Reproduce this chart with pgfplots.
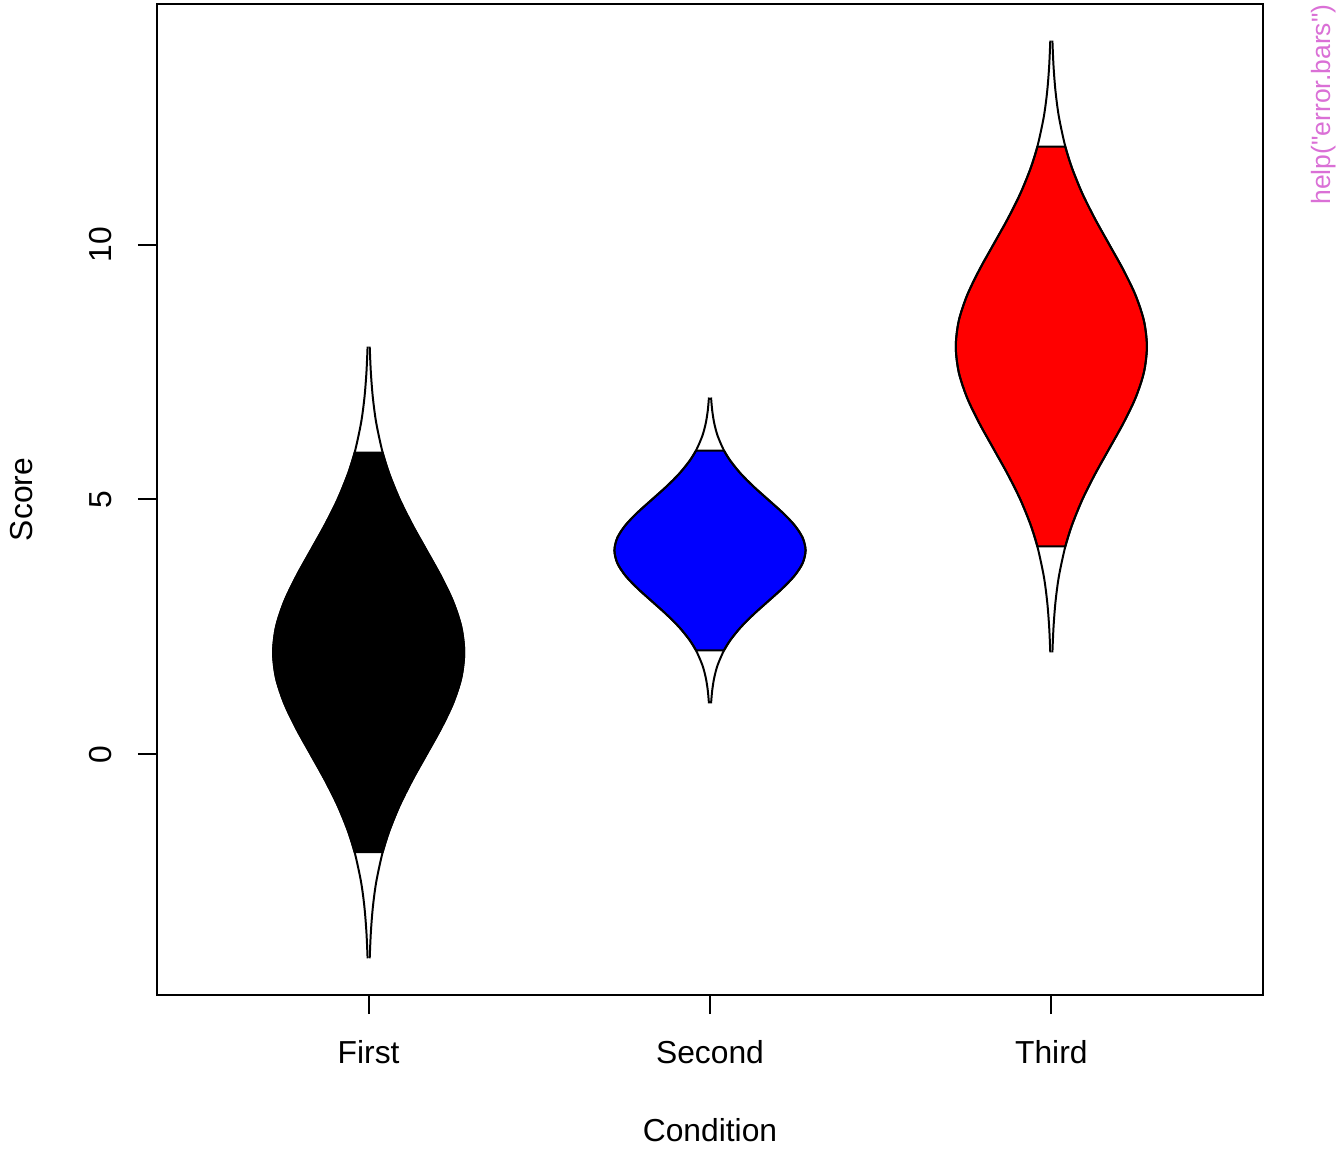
\documentclass[border=0pt]{standalone}
\usepackage{fontspec}
\setmainfont{Liberation Sans}
\newfontfamily\helpfont{Liberation Sans}
\usepackage{pgfplots}
\pgfplotsset{compat=1.18}
\usepgfplotslibrary{fillbetween}
\definecolor{violetR}{HTML}{DA70D6}
\newcommand{\fsA}{\fontsize{12}{14.4}\selectfont}
\newcommand{\fsB}{\fontsize{10}{12}\selectfont}
\begin{document}
\begin{tikzpicture}
\begin{axis}[
  at={(0,0)}, anchor=south west,
  scale only axis, width=417.36pt, height=373.96pt,
  xmin=0.38, xmax=3.62, ymin=-4.72, ymax=14.72,
  axis line style={line width=0.75pt},
  xtick={1,2,3}, xticklabels={First,Second,Third},
  ytick={0,5,10},
  xtick pos=bottom, ytick pos=left,
  tick align=outside, major tick length=7.2pt,
  tick style={line width=0.75pt, black},
  /pgf/number format/assume math mode=true,
  tick label style={font=\fsA},
  xticklabel style={anchor=base, yshift=-18.8pt},
  yticklabel style={xshift=-9.8pt, rotate=90, anchor=base},
  clip=false,
]
% First
\addplot[draw=none, smooth, name path=f1l, forget plot] coordinates {(0.9590,-1.92) (0.9394,-1.5) (0.9091,-1) (0.8718,-0.5) (0.8302,0) (0.7887,0.5) (0.7529,1) (0.7286,1.5) (0.72,2) (0.7286,2.5) (0.7529,3) (0.7887,3.5) (0.8302,4) (0.8718,4.5) (0.9091,5) (0.9394,5.5) (0.9590,5.92)};
\addplot[draw=none, smooth, name path=f1r, forget plot] coordinates {(1.0410,-1.92) (1.0606,-1.5) (1.0909,-1) (1.1282,-0.5) (1.1698,0) (1.2113,0.5) (1.2471,1) (1.2714,1.5) (1.28,2) (1.2714,2.5) (1.2471,3) (1.2113,3.5) (1.1698,4) (1.1282,4.5) (1.0909,5) (1.0606,5.5) (1.0410,5.92)};
\addplot[fill=black, draw=black, line width=0.75pt] fill between[of=f1l and f1r, reverse=true];
\addplot[black, line width=0.75pt, smooth] coordinates {(0.9969,-4) (0.9936,-3.5) (0.9877,-3) (0.9777,-2.5) (0.9590,-1.92) (0.9394,-1.5) (0.9091,-1) (0.8718,-0.5) (0.8302,0) (0.7887,0.5) (0.7529,1) (0.7286,1.5) (0.72,2) (0.7286,2.5) (0.7529,3) (0.7887,3.5) (0.8302,4) (0.8718,4.5) (0.9091,5) (0.9394,5.5) (0.9590,5.92) (0.9777,6.5) (0.9877,7) (0.9936,7.5) (0.9969,8)};
\addplot[black, line width=0.75pt, smooth] coordinates {(1.0031,-4) (1.0064,-3.5) (1.0123,-3) (1.0223,-2.5) (1.0410,-1.92) (1.0606,-1.5) (1.0909,-1) (1.1282,-0.5) (1.1698,0) (1.2113,0.5) (1.2471,1) (1.2714,1.5) (1.28,2) (1.2714,2.5) (1.2471,3) (1.2113,3.5) (1.1698,4) (1.1282,4.5) (1.0909,5) (1.0606,5.5) (1.0410,5.92) (1.0223,6.5) (1.0123,7) (1.0064,7.5) (1.0031,8)};
% Second
\addplot[draw=none, smooth, name path=f2l, forget plot] coordinates {(1.9590,2.04) (1.9394,2.25) (1.9091,2.5) (1.8718,2.75) (1.8302,3) (1.7887,3.25) (1.7529,3.5) (1.7286,3.75) (1.72,4) (1.7286,4.25) (1.7529,4.5) (1.7887,4.75) (1.8302,5) (1.8718,5.25) (1.9091,5.5) (1.9394,5.75) (1.9590,5.96)};
\addplot[draw=none, smooth, name path=f2r, forget plot] coordinates {(2.0410,2.04) (2.0606,2.25) (2.0909,2.5) (2.1282,2.75) (2.1698,3) (2.2113,3.25) (2.2471,3.5) (2.2714,3.75) (2.28,4) (2.2714,4.25) (2.2471,4.5) (2.2113,4.75) (2.1698,5) (2.1282,5.25) (2.0909,5.5) (2.0606,5.75) (2.0410,5.96)};
\addplot[fill=blue, draw=black, line width=0.75pt] fill between[of=f2l and f2r, reverse=true];
\addplot[black, line width=0.75pt, smooth] coordinates {(1.9969,1) (1.9936,1.25) (1.9877,1.5) (1.9777,1.75) (1.9590,2.04) (1.9394,2.25) (1.9091,2.5) (1.8718,2.75) (1.8302,3) (1.7887,3.25) (1.7529,3.5) (1.7286,3.75) (1.72,4) (1.7286,4.25) (1.7529,4.5) (1.7887,4.75) (1.8302,5) (1.8718,5.25) (1.9091,5.5) (1.9394,5.75) (1.9590,5.96) (1.9777,6.25) (1.9877,6.5) (1.9936,6.75) (1.9969,7)};
\addplot[black, line width=0.75pt, smooth] coordinates {(2.0031,1) (2.0064,1.25) (2.0123,1.5) (2.0223,1.75) (2.0410,2.04) (2.0606,2.25) (2.0909,2.5) (2.1282,2.75) (2.1698,3) (2.2113,3.25) (2.2471,3.5) (2.2714,3.75) (2.28,4) (2.2714,4.25) (2.2471,4.5) (2.2113,4.75) (2.1698,5) (2.1282,5.25) (2.0909,5.5) (2.0606,5.75) (2.0410,5.96) (2.0223,6.25) (2.0123,6.5) (2.0064,6.75) (2.0031,7)};
% Third
\addplot[draw=none, smooth, name path=f3l, forget plot] coordinates {(2.9590,4.08) (2.9394,4.5) (2.9091,5) (2.8718,5.5) (2.8302,6) (2.7887,6.5) (2.7529,7) (2.7286,7.5) (2.72,8) (2.7286,8.5) (2.7529,9) (2.7887,9.5) (2.8302,10) (2.8718,10.5) (2.9091,11) (2.9394,11.5) (2.9590,11.92)};
\addplot[draw=none, smooth, name path=f3r, forget plot] coordinates {(3.0410,4.08) (3.0606,4.5) (3.0909,5) (3.1282,5.5) (3.1698,6) (3.2113,6.5) (3.2471,7) (3.2714,7.5) (3.28,8) (3.2714,8.5) (3.2471,9) (3.2113,9.5) (3.1698,10) (3.1282,10.5) (3.0909,11) (3.0606,11.5) (3.0410,11.92)};
\addplot[fill=red, draw=black, line width=0.75pt] fill between[of=f3l and f3r, reverse=true];
\addplot[black, line width=0.75pt, smooth] coordinates {(2.9969,2) (2.9936,2.5) (2.9877,3) (2.9777,3.5) (2.9590,4.08) (2.9394,4.5) (2.9091,5) (2.8718,5.5) (2.8302,6) (2.7887,6.5) (2.7529,7) (2.7286,7.5) (2.72,8) (2.7286,8.5) (2.7529,9) (2.7887,9.5) (2.8302,10) (2.8718,10.5) (2.9091,11) (2.9394,11.5) (2.9590,11.92) (2.9777,12.5) (2.9877,13) (2.9936,13.5) (2.9969,14)};
\addplot[black, line width=0.75pt, smooth] coordinates {(3.0031,2) (3.0064,2.5) (3.0123,3) (3.0223,3.5) (3.0410,4.08) (3.0606,4.5) (3.0909,5) (3.1282,5.5) (3.1698,6) (3.2113,6.5) (3.2471,7) (3.2714,7.5) (3.28,8) (3.2714,8.5) (3.2471,9) (3.2113,9.5) (3.1698,10) (3.1282,10.5) (3.0909,11) (3.0606,11.5) (3.0410,11.92) (3.0223,12.5) (3.0123,13) (3.0064,13.5) (3.0031,14)};
% labels
\node[font=\fsA, anchor=base] at (rel axis cs:0.5,0) [yshift=-55.3pt] {Condition};
\node[font=\fsA, xshift=-46.8pt, rotate=90, anchor=base] at (rel axis cs:0,0.5) {Score};
\node[font=\helpfont\fsB, text=violetR, inner sep=0pt, xshift=22.8pt, rotate=90, anchor=east] at (rel axis cs:1,1) {help("error.bars")};
\end{axis}
\pgfresetboundingbox
\path[use as bounding box] (-59.25pt,-58.11pt) rectangle (447.93pt,375.47pt);
\end{tikzpicture}
\end{document}
